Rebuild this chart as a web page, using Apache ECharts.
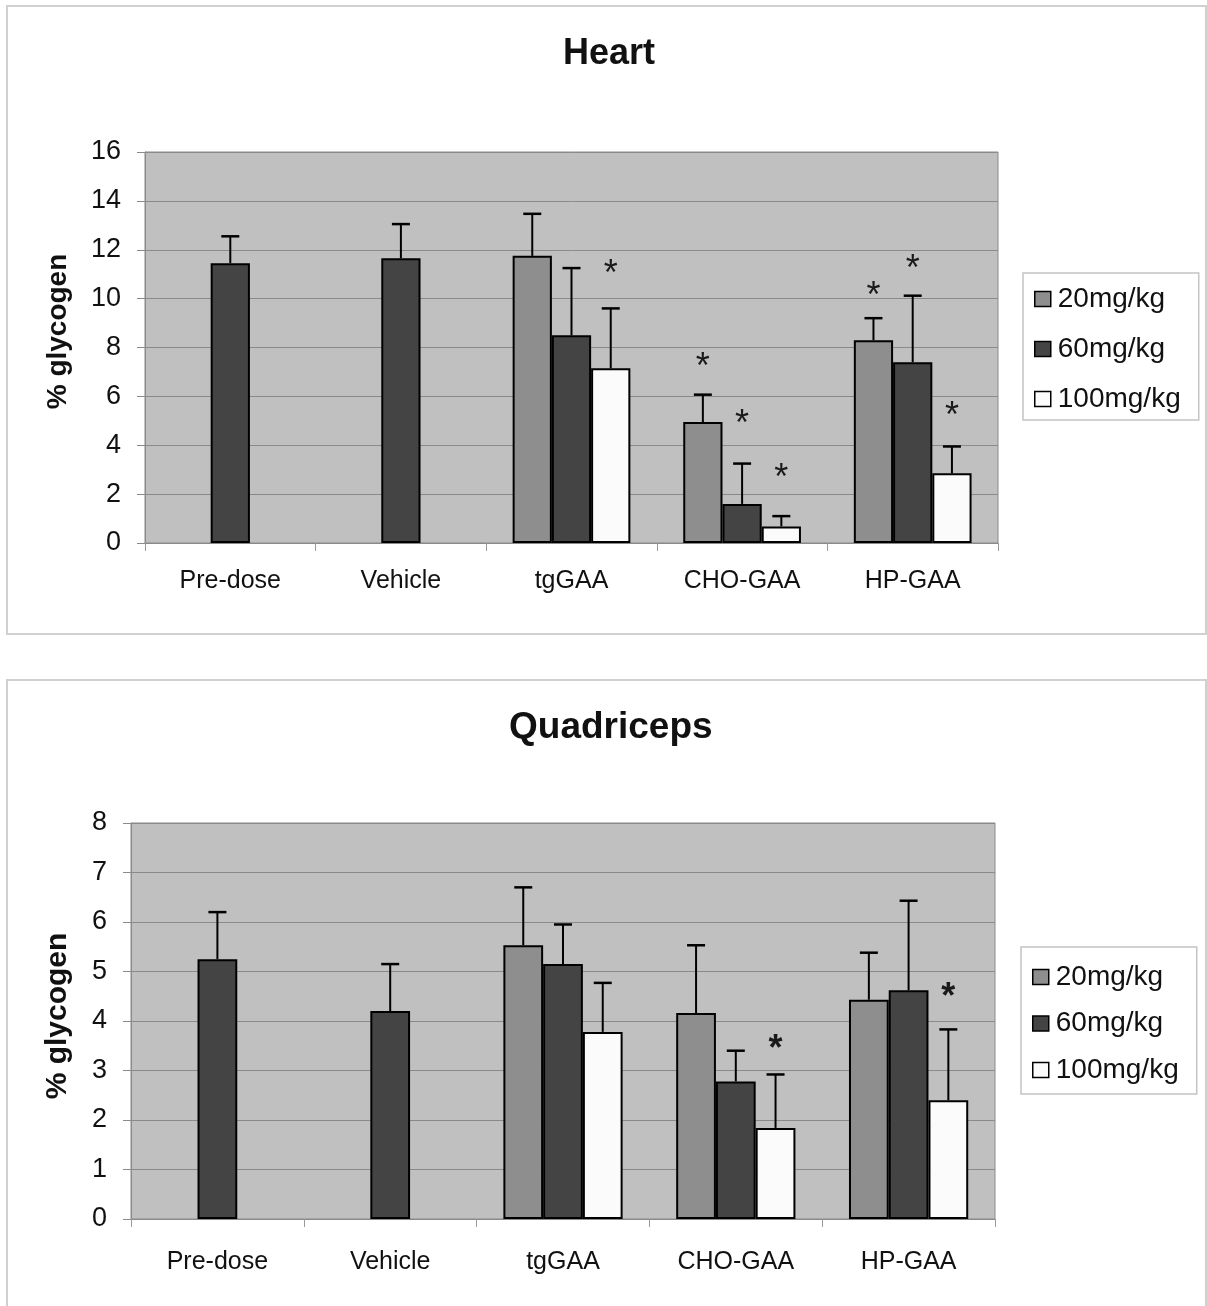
<!DOCTYPE html>
<html>
<head>
<meta charset="utf-8">
<script src="https://cdn.jsdelivr.net/npm/echarts@6/dist/echarts.min.js"></script>
<style>
  html, body { margin:0; padding:0; background:#fff; }
  body { width:1207px; height:1306px; position:relative; overflow:hidden; }
  .panel { position:absolute; border:2px solid #d0d0d0; box-sizing:border-box; }
  #chart { position:absolute; left:0; top:0; width:1207px; height:1306px; }
</style>
</head>
<body>
<div class="panel" style="left:6px;top:5px;width:1201px;height:630px;"></div>
<div class="panel" style="left:6px;top:679px;width:1201px;height:700px;"></div>
<div id="chart"></div>
<script>
// ---------- data ----------
const categories = ['Pre-dose', 'Vehicle', 'tgGAA', 'CHO-GAA', 'HP-GAA'];
const seriesNames = ['20mg/kg', '60mg/kg', '100mg/kg'];

// Heart (% glycogen)
const heartControl    = [11.45, 11.65, null, null, null];
const heartControlErr = [1.10, 1.40, null, null, null];
const heart20   = [null, null, 11.75, 4.95, 8.30];
const heart20Err  = [null, null, 1.72, 1.12, 0.90];
const heart60   = [null, null, 8.50, 1.60, 7.40];
const heart60Err  = [null, null, 2.75, 1.65, 2.72];
const heart100  = [null, null, 7.15, 0.68, 2.85];
const heart100Err = [null, null, 2.45, 0.42, 1.10];
const heartStar20  = [null, null, null, 7.35, 10.27];
const heartStar60  = [null, null, null, 5.05, 11.39];
const heartStar100 = [null, null, 11.15, 2.84, 5.36];
const heartTicks = { min: 0, max: 16, interval: 2 };

// Quadriceps (% glycogen)
const quadControl    = [5.25, 4.20, null, null, null];
const quadControlErr = [0.95, 0.95, null, null, null];
const quad20   = [null, null, 5.53, 4.16, 4.43];
const quad20Err  = [null, null, 1.17, 1.37, 0.95];
const quad60   = [null, null, 5.15, 2.78, 4.62];
const quad60Err  = [null, null, 0.80, 0.62, 1.81];
const quad100  = [null, null, 3.78, 1.84, 2.40];
const quad100Err = [null, null, 0.99, 1.08, 1.43];
const quadStar20  = [null, null, null, null, null];
const quadStar60  = [null, null, null, null, null];
const quadStar100 = [null, null, null, 3.54, 4.59];
const quadTicks = { min: 0, max: 8, interval: 1 };

// ---------- styles ----------
const FONT = 'Liberation Sans, Arial, sans-serif';
const colors = ['#8e8e8e', '#444444', '#fbfbfb'];
const BAR_RATIO = 0.23;

function errData(vals, errs, offset) {
  const out = [];
  vals.forEach((v, i) => { if (v != null) out.push([i, v, v + errs[i], offset]); });
  return out;
}
function starData(vals, offset) {
  const out = [];
  vals.forEach((v, i) => { if (v != null) out.push([i, v, offset]); });
  return out;
}
function errRender(params, api) {
  const c = api.coord([api.value(0), api.value(1)]);
  const t = api.coord([api.value(0), api.value(2)]);
  const bw = api.size([1, 0])[0] * BAR_RATIO;
  const x = c[0] + api.value(3) * bw;
  return { type: 'group', children: [
    { type: 'line', shape: { x1: x, y1: c[1], x2: x, y2: t[1] }, style: { stroke: '#000', lineWidth: 2 } },
    { type: 'line', shape: { x1: x - 9, y1: t[1], x2: x + 9, y2: t[1] }, style: { stroke: '#000', lineWidth: 2.5 } }
  ]};
}
function starRender(font, dy) {
  return function (params, api) {
    const c = api.coord([api.value(0), api.value(1)]);
    const bw = api.size([1, 0])[0] * BAR_RATIO;
    const x = c[0] + api.value(2) * bw;
    return { type: 'text', x: x, y: c[1] + dy,
      style: { text: '*', font: font, align: 'center', verticalAlign: 'middle', fill: '#1a1a1a' } };
  };
}

function panel(gi, d, starFont, starDy) {
  const xMain = gi * 2, xCtrl = gi * 2 + 1;
  const bar = (name, data, color, xi) => ({
    type: 'bar', name: name, data: data, xAxisIndex: xi, yAxisIndex: gi,
    barWidth: (BAR_RATIO * 100) + '%', barGap: '0%',
    itemStyle: { color: color, borderColor: '#000', borderWidth: 2 },
    emphasis: { disabled: true }, z: 2
  });
  const err = (data) => ({
    type: 'custom', xAxisIndex: xMain, yAxisIndex: gi, data: data,
    encode: { x: 0, y: [1, 2] }, renderItem: errRender, z: 5, silent: true
  });
  const star = (data) => ({
    type: 'custom', xAxisIndex: xMain, yAxisIndex: gi, data: data,
    encode: { x: 0, y: 1 }, renderItem: starRender(starFont, starDy), z: 6, silent: true
  });
  return [
    bar('control', d.ctrl, colors[1], xCtrl),
    bar(seriesNames[0], d.s20, colors[0], xMain),
    bar(seriesNames[1], d.s60, colors[1], xMain),
    bar(seriesNames[2], d.s100, colors[2], xMain),
    err(errData(d.ctrl, d.ctrlErr, 0)),
    err(errData(d.s20, d.e20, -1)),
    err(errData(d.s60, d.e60, 0)),
    err(errData(d.s100, d.e100, 1)),
    star(starData(d.st20, -1)),
    star(starData(d.st60, 0)),
    star(starData(d.st100, 1))
  ];
}

function xAxes(gi, margin) {
  return [
    { type: 'category', gridIndex: gi, data: categories,
      axisLine: { lineStyle: { color: '#8a8a8a', width: 1 } },
      axisTick: { show: true, length: 8, lineStyle: { color: '#9a9a9a' } },
      axisLabel: { color: '#111', fontFamily: FONT, fontSize: 25, margin: margin },
      splitLine: { show: false } },
    { type: 'category', gridIndex: gi, data: categories, show: false }
  ];
}
function yAxis(gi, ticks, nameGap, nameSize, namePad) {
  return { type: 'value', gridIndex: gi, min: ticks.min, max: ticks.max, interval: ticks.interval,
    name: '% glycogen', nameLocation: 'middle', nameRotate: 90, nameGap: nameGap,
    nameTextStyle: { fontFamily: FONT, fontSize: nameSize, fontWeight: 'bold', color: '#111', padding: namePad },
    axisLine: { show: true, lineStyle: { color: '#8a8a8a' } },
    axisTick: { show: true, length: 8, lineStyle: { color: '#8a8a8a' } },
    axisLabel: { color: '#111', fontFamily: FONT, fontSize: 27, margin: 24 },
    splitLine: { show: true, lineStyle: { color: '#8a8a8a', width: 1 } } };
}
function legend(left, top, pad, gap, fontSize) {
  return { data: seriesNames, orient: 'vertical', left: left, top: top,
    backgroundColor: '#fff', borderColor: '#c4c4c4', borderWidth: 1.5,
    padding: pad, itemGap: gap, itemWidth: 16, itemHeight: 15, icon: 'rect',
    itemStyle: { borderColor: '#000', borderWidth: 1.5 },
    textStyle: { fontFamily: FONT, fontSize: fontSize, color: '#111', padding: [0, 0, 0, 2] },
    selectedMode: false };
}

const chart = echarts.init(document.getElementById('chart'), null, { renderer: 'canvas' });
chart.setOption({
  animation: false,
  backgroundColor: 'transparent',
  title: [
    { text: 'Heart', left: 558, top: 31, textStyle: { fontFamily: FONT, fontSize: 36, fontWeight: 'bold', color: '#111' } },
    { text: 'Quadriceps', left: 504, top: 704, textStyle: { fontFamily: FONT, fontSize: 37, fontWeight: 'bold', color: '#111' } }
  ],
  legend: [
    legend(1023, 273, [12, 18, 7, 11], 22, 28),
    legend(1021, 947, [16, 18, 10, 11], 18.5, 28)
  ],
  grid: [
    { left: 145, top: 152, width: 853, height: 391, show: true, backgroundColor: '#c0c0c0', borderColor: '#8a8a8a', borderWidth: 1 },
    { left: 131, top: 823, width: 864, height: 396, show: true, backgroundColor: '#c0c0c0', borderColor: '#8a8a8a', borderWidth: 1 }
  ],
  xAxis: xAxes(0, 26).concat(xAxes(1, 31)),
  yAxis: [ yAxis(0, heartTicks, 73, 28, [0, 0, 0, 32]), yAxis(1, quadTicks, 58, 30, [0, 0, 0, 10]) ],
  series: panel(0, {
      ctrl: heartControl, ctrlErr: heartControlErr,
      s20: heart20, e20: heart20Err, s60: heart60, e60: heart60Err, s100: heart100, e100: heart100Err,
      st20: heartStar20, st60: heartStar60, st100: heartStar100
    }, 'normal 36px ' + FONT, 5)
    .concat(panel(1, {
      ctrl: quadControl, ctrlErr: quadControlErr,
      s20: quad20, e20: quad20Err, s60: quad60, e60: quad60Err, s100: quad100, e100: quad100Err,
      st20: quadStar20, st60: quadStar60, st100: quadStar100
    }, 'bold 36px ' + FONT, 6.5))
});
</script>
</body>
</html>
